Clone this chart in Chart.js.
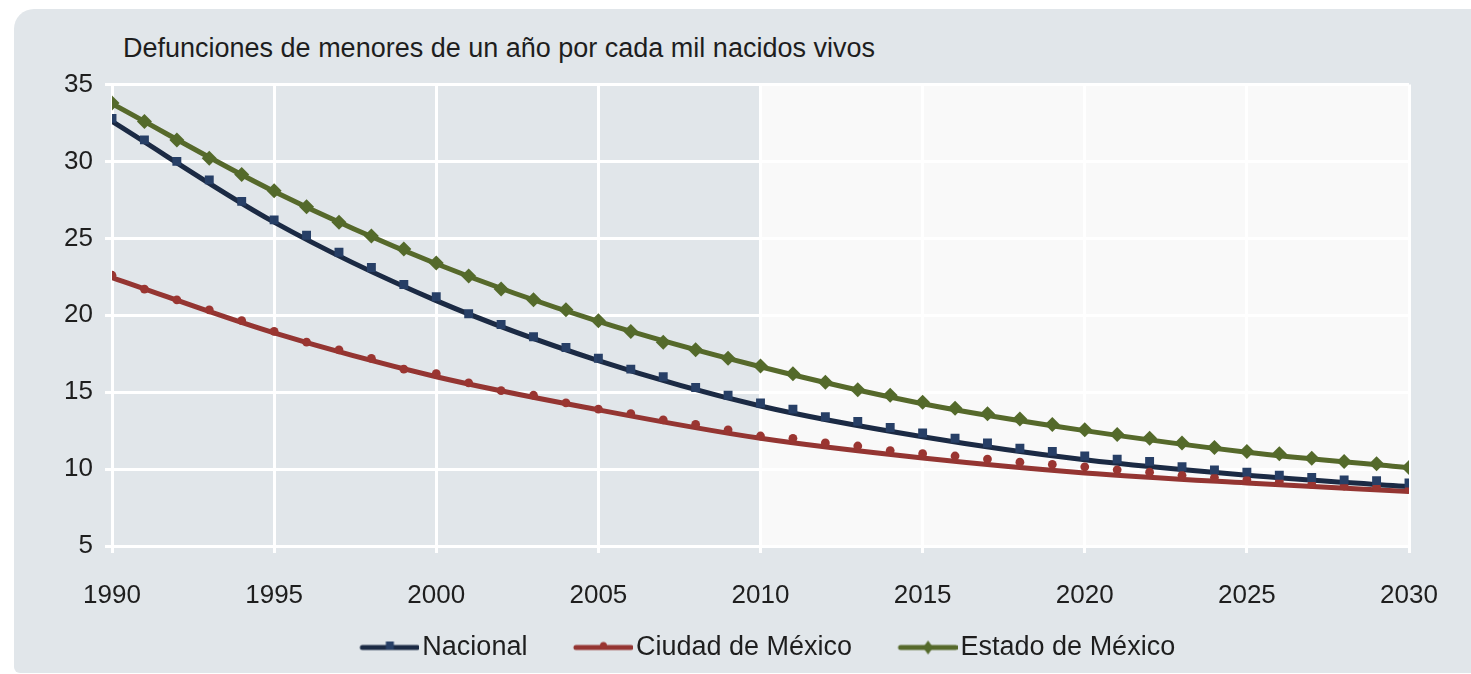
<!doctype html>
<html>
<head>
<meta charset="utf-8">
<script src="https://cdn.jsdelivr.net/npm/chart.js"></script>
<style>
body { margin: 0; background: #fff; overflow: hidden; }
#panel { position: absolute; left: 14px; top: 9px; width: 1480px; height: 664px; background: #e1e6ea; border-radius: 20px 0 0 6px; }
#title { position: absolute; left: 123px; top: 35px; font: 27px 'Liberation Sans', Arial, sans-serif; line-height: 27px; color: #1e1e1e; white-space: nowrap; }
#chart { position: absolute; left: 0; top: 0; }
</style>
</head>
<body>
<div id="panel"></div>
<div id="title">Defunciones de menores de un año por cada mil nacidos vivos</div>
<canvas id="chart" width="1471" height="674"></canvas>
<script>
// yearly data points (markers)
const years = [1990, 1991, 1992, 1993, 1994, 1995, 1996, 1997, 1998, 1999,
               2000, 2001, 2002, 2003, 2004, 2005, 2006, 2007, 2008, 2009,
               2010, 2011, 2012, 2013, 2014, 2015, 2016, 2017, 2018, 2019,
               2020, 2021, 2022, 2023, 2024, 2025, 2026, 2027, 2028, 2029, 2030];
const nacional = [32.8, 31.4, 30.0, 28.8, 27.4, 26.2, 25.2, 24.1, 23.1, 22.0,
                  21.2, 20.1, 19.4, 18.6, 17.9, 17.2, 16.5, 16.0, 15.3, 14.8,
                  14.3, 13.9, 13.4, 13.1, 12.7, 12.35, 12.0, 11.7, 11.35, 11.15,
                  10.85, 10.65, 10.5, 10.15, 9.95, 9.8, 9.6, 9.45, 9.3, 9.25, 9.1];
const ciudad = [22.6, 21.7, 21.0, 20.35, 19.65, 18.95, 18.25, 17.75, 17.2, 16.5,
                16.2, 15.6, 15.1, 14.8, 14.3, 13.9, 13.6, 13.2, 12.9, 12.55,
                12.15, 12.0, 11.7, 11.5, 11.2, 11.0, 10.85, 10.65, 10.45, 10.3,
                10.15, 9.95, 9.8, 9.6, 9.45, 9.3, 9.2, 9.0, 8.9, 8.85, 8.7];
const estado = [33.8, 32.6, 31.4, 30.2, 29.15, 28.1, 27.05, 26.05, 25.15, 24.3,
                23.4, 22.55, 21.7, 21.0, 20.35, 19.65, 18.95, 18.25, 17.75, 17.2,
                16.7, 16.2, 15.65, 15.15, 14.8, 14.35, 13.95, 13.6, 13.25, 12.9,
                12.55, 12.25, 12.0, 11.7, 11.4, 11.15, 11.0, 10.7, 10.5, 10.35, 10.1];

// smoothed trend lines, read at each 5-year tick
const trendYears = [1990, 1995, 2000, 2005, 2010, 2015, 2020, 2025, 2030];
const nacionalTrend = [32.6, 26.05, 20.95, 17.05, 14.1, 12.1, 10.6, 9.6, 8.85];
const ciudadTrend = [22.45, 18.85, 16.0, 13.85, 12.0, 10.72, 9.75, 9.1, 8.55];
const estadoTrend = [33.75, 28.05, 23.35, 19.6, 16.65, 14.25, 12.5, 11.1, 10.1];

const seriesNames = ['Nacional', 'Ciudad de México', 'Estado de México'];
const projectionStart = 2010;

const lineColors = ['#1b2a44', '#943532', '#56692b'];
const markColors = ['#273f66', '#9a3531', '#546a2b'];
const markStyles = ['rect', 'circle', 'rectRot'];
const markRadius = [6.3, 4.4, 7.5];

function pts(xs, ys) {
  return xs.map((x, i) => ({ x: x, y: ys[i] }));
}

// legend icon: a short line with the marker in the middle
function legendIcon(k) {
  const c = document.createElement('canvas');
  c.width = 106; c.height = 20;
  const g = c.getContext('2d');
  g.strokeStyle = lineColors[k];
  g.lineWidth = 5;
  g.lineCap = 'round';
  g.beginPath(); g.moveTo(49, 10); g.lineTo(104, 10); g.stroke();
  g.fillStyle = markColors[k];
  const cx = 76.5, cy = 10;
  if (k === 0) {
    g.fillRect(cx - 4, cy - 6, 8, 8);
  } else if (k === 1) {
    g.beginPath(); g.arc(cx, cy - 2, 3.5, 0, Math.PI * 2); g.fill();
  } else {
    g.beginPath(); g.moveTo(cx, cy - 7); g.lineTo(cx + 5, cy); g.lineTo(cx, cy + 7); g.lineTo(cx - 5, cy); g.closePath(); g.fill();
  }
  return c;
}
const icons = [0, 1, 2].map(legendIcon);

const shade = {
  id: 'shade',
  beforeDraw(chart) {
    const { ctx, chartArea, scales } = chart;
    const x0 = scales.x.getPixelForValue(projectionStart);
    ctx.save();
    ctx.fillStyle = '#f9f9f9';
    ctx.fillRect(x0, chartArea.top, chartArea.right - x0, chartArea.bottom - chartArea.top);
    ctx.restore();
  }
};

Chart.defaults.font.family = "'Liberation Sans', Arial, sans-serif";
Chart.defaults.font.size = 26;
Chart.defaults.color = '#1e1e1e';

const trends = [nacionalTrend, ciudadTrend, estadoTrend];
const marks = [nacional, ciudad, estado];
const datasets = [];
for (let k = 0; k < 3; k++) {
  datasets.push({
    label: seriesNames[k] + ' puntos',
    data: pts(years, marks[k]),
    showLine: false,
    pointStyle: markStyles[k],
    pointRadius: markRadius[k],
    pointHoverRadius: markRadius[k],
    pointBackgroundColor: markColors[k],
    pointBorderWidth: 0,
    order: 0
  });
  datasets.push({
    label: seriesNames[k],
    data: pts(trendYears, trends[k]),
    showLine: true,
    borderColor: lineColors[k],
    borderWidth: 5,
    pointRadius: 0,
    pointHoverRadius: 0,
    cubicInterpolationMode: 'monotone',
    fill: false,
    order: 1
  });
}

new Chart(document.getElementById('chart'), {
  type: 'scatter',
  data: { datasets: datasets },
  plugins: [shade],
  options: {
    responsive: false,
    animation: false,
    layout: { padding: { left: 90, right: 62, top: 84.5, bottom: 3 } },
    scales: {
      x: {
        type: 'linear',
        min: 1990,
        max: 2030,
        afterFit(s) { s.height = 78; },
        ticks: { stepSize: 5, padding: 27, callback: v => String(v) },
        grid: { color: '#ffffff', lineWidth: 3, tickLength: 7 },
        border: { color: '#ffffff', width: 3 }
      },
      y: {
        min: 5,
        max: 35,
        afterFit(s) { s.width = 22; },
        // mirrored + negative padding keeps the labels left of the axis without clipping
        ticks: { stepSize: 5, mirror: true, crossAlign: 'far', padding: -48 },
        grid: { color: '#ffffff', lineWidth: 3, tickLength: 7 },
        border: { color: '#ffffff', width: 3 }
      }
    },
    plugins: {
      tooltip: { enabled: false },
      legend: {
        position: 'bottom',
        onClick: null,
        labels: {
          usePointStyle: true,
          pointStyleWidth: 85,
          padding: 10,
          font: { size: 27 },
          generateLabels: () => seriesNames.map((name, i) => ({
            text: name,
            pointStyle: icons[i],
            fillStyle: 'transparent',
            strokeStyle: 'transparent',
            lineWidth: 0,
            hidden: false,
            datasetIndex: i * 2 + 1,
            fontColor: '#1e1e1e'
          }))
        }
      }
    }
  }
});
</script>
</body>
</html>
